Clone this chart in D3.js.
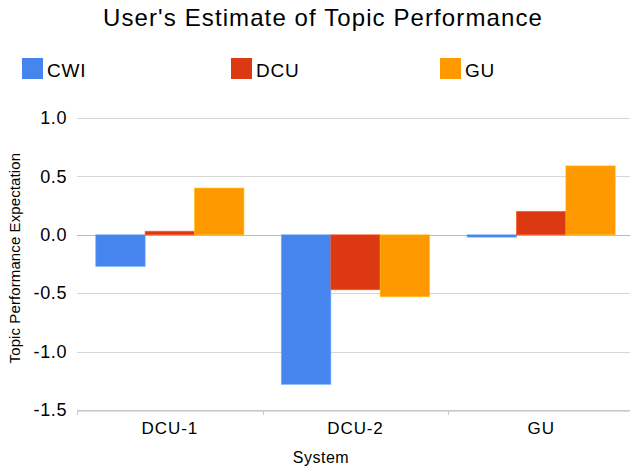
<!DOCTYPE html>
<html>
<head>
<meta charset="utf-8">
<script src="https://cdn.jsdelivr.net/npm/d3@7"></script>
<style>
  body { margin: 0; background: #fff; }
  text { font-family: "Liberation Sans", Arial, sans-serif; fill: #000; }
</style>
</head>
<body>
<div id="chart"></div>
<script>
const systems = ["DCU-1", "DCU-2", "GU"]
const groups = ["CWI", "DCU", "GU"]
const cwiValues = [-0.27, -1.28, -0.02]
const dcuValues = [0.03, -0.47, 0.20]
const guValues = [0.40, -0.53, 0.59]
const yTicks = [-1.5, -1.0, -0.5, 0.0, 0.5, 1.0]
const colors = ["#4684ee", "#dc3912", "#ff9900"]

const width = 630
const height = 470
const margin = {top: 118, right: -4, bottom: 60, left: 77}

const series = [cwiValues, dcuValues, guValues]
const data = systems.map((s, i) => ({
    system: s,
    values: groups.map((g, j) => ({group: g, value: series[j][i]}))
}))

const svg = d3.select("#chart")
    .append("svg")
    .attr("width", width)
    .attr("height", height)

const x = d3.scaleBand()
    .domain(systems)
    .range([margin.left, width - margin.right])
    .paddingInner(0)
    .paddingOuter(0)

// bars take ~80% of each category
const xInner = d3.scaleBand()
    .domain(groups)
    .range([0, x.bandwidth()])
    .paddingOuter(0.38)

const y = d3.scaleLinear()
    .domain([-1.5, 1.0])
    .range([410, 118])

const color = d3.scaleOrdinal().domain(groups).range(colors)

// title
svg.append("text")
    .attr("x", 323)
    .attr("y", 26)
    .attr("text-anchor", "middle")
    .style("font-size", "24px")
    .style("letter-spacing", "1.1px")
    .text("User's Estimate of Topic Performance")

// legend
const legendX = [22, 231, 440]
const legend = svg.selectAll(".legend")
    .data(groups)
    .join("g")
    .attr("transform", (d, i) => `translate(${legendX[i]}, 58)`)
legend.append("rect")
    .attr("width", 21)
    .attr("height", 21)
    .attr("fill", d => color(d))
legend.append("text")
    .attr("x", 25)
    .attr("y", 19)
    .style("font-size", "19px")
    .style("letter-spacing", "0.8px")
    .text(d => d)

// gridlines
svg.append("g")
    .selectAll("line")
    .data(yTicks)
    .join("line")
    .attr("x1", margin.left)
    .attr("x2", width)
    .attr("y1", d => Math.round(y(d)) + 0.5)
    .attr("y2", d => Math.round(y(d)) + 0.5)
    .attr("stroke", d => d === 0 ? "#bbb" : "#d6d6d6")
    .attr("stroke-width", 1)

// y axis labels
const yAxis = svg.append("g")
    .attr("transform", `translate(${margin.left},0)`)
    .call(d3.axisLeft(y).tickValues(yTicks).tickFormat(d => d.toFixed(1)).tickSize(0).tickPadding(10))
yAxis.select(".domain").remove()
yAxis.selectAll("text")
    .style("font-size", "18px")
    .style("letter-spacing", "0.6px")
    .style("font-family", "Liberation Sans, Arial, sans-serif")
    .attr("fill", "#000")

// bars
svg.append("g")
    .selectAll("g")
    .data(data)
    .join("g")
    .attr("transform", d => `translate(${x(d.system)},0)`)
    .selectAll("rect")
    .data(d => d.values)
    .join("rect")
    .attr("x", d => xInner(d.group))
    .attr("width", xInner.bandwidth())
    .attr("y", d => y(Math.max(0, d.value)))
    .attr("height", d => Math.abs(y(d.value) - y(0)))
    .attr("fill", d => color(d.group))
    .attr("stroke", d => d3.color(color(d.group)).brighter(0.6))
    .attr("stroke-opacity", 0.6)
    .attr("stroke-width", 1)

// x axis
const xAxis = svg.append("g")
    .attr("transform", `translate(0,${Math.round(y(-1.5)) + 0.5})`)
    .call(d3.axisBottom(x).tickSize(0).tickPadding(11))
xAxis.select(".domain").attr("stroke", "#bbb")
xAxis.selectAll("text")
    .style("font-size", "17px")
    .style("letter-spacing", "0.9px")
    .style("font-family", "Liberation Sans, Arial, sans-serif")
    .attr("fill", "#000")

// category boundary ticks
svg.append("g")
    .selectAll("line")
    .data(systems)
    .join("line")
    .attr("x1", d => Math.round(x(d)) + 0.5)
    .attr("x2", d => Math.round(x(d)) + 0.5)
    .attr("y1", Math.round(y(-1.5)))
    .attr("y2", Math.round(y(-1.5)) + 5)
    .attr("stroke", "#ccc")

// axis titles
svg.append("text")
    .attr("x", 321)
    .attr("y", 463)
    .attr("text-anchor", "middle")
    .style("font-size", "16px")
    .style("letter-spacing", "0.5px")
    .text("System")

svg.append("text")
    .attr("transform", `translate(20, ${y(-0.2)}) rotate(-90)`)
    .attr("text-anchor", "middle")
    .style("font-size", "15px")
    .style("letter-spacing", "0.1px")
    .text("Topic Performance Expectation")
</script>
</body>
</html>
